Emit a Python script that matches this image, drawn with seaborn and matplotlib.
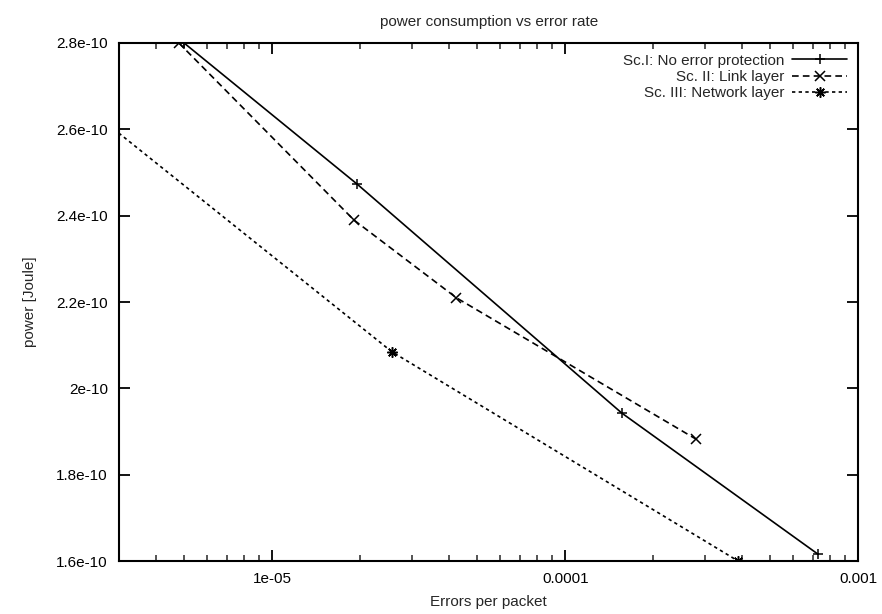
import numpy as np
import pandas as pd
import seaborn as sns
import matplotlib
matplotlib.use("Agg")
import matplotlib.pyplot as plt
from matplotlib.ticker import FixedLocator, LogLocator, NullFormatter

# values
sc1_x = [5.0e-6, 1.95e-5, 1.56e-4, 7.3e-4]
sc1_y = [2.80e-10, 2.473e-10, 1.943e-10, 1.616e-10]

sc2_x = [4.8e-6, 1.9e-5, 4.25e-5, 2.79e-4]
sc2_y = [2.80e-10, 2.39e-10, 2.21e-10, 1.883e-10]

sc3_x = [1.0e-6, 2.56e-5, 3.9e-4]
sc3_y = [2.85e-10, 2.085e-10, 1.60e-10]

labels = ["Sc.I: No error protection", "Sc. II: Link layer", "Sc. III: Network layer"]
x_ticks = [1e-5, 1e-4, 1e-3]
x_tick_labels = ["1e-05", "0.0001", "0.001"]
y_ticks = [1.6e-10, 1.8e-10, 2.0e-10, 2.2e-10, 2.4e-10, 2.6e-10, 2.8e-10]
y_tick_labels = ["1.6e-10", "1.8e-10", "2e-10", "2.2e-10", "2.4e-10", "2.6e-10", "2.8e-10"]

sns.set_style("ticks")
plt.rcParams["font.family"] = ["Liberation Sans", "DejaVu Sans"]

fig = plt.figure(figsize=(8.82, 6.14), dpi=100)
ax = fig.add_axes([0.135, 0.086, 0.838, 0.844])

series = [(sc1_x, sc1_y), (sc2_x, sc2_y), (sc3_x, sc3_y)]
styles = ["-", (0, (4, 2.5)), (0, (2, 2))]
markers = ["+", "x", (8, 2, 0)]

for (xs, ys), lab, ls, mk in zip(series, labels, styles, markers):
    df = pd.DataFrame({"x": xs, "y": ys})
    sns.lineplot(data=df, x="x", y="y", ax=ax, color="black", linestyle=ls,
                 marker=mk, markersize=7.5, markeredgewidth=1.1,
                 markeredgecolor="black", linewidth=1.2, label=lab)

ax.set_xscale("log")
ax.set_xlim(3e-6, 1e-3)
ax.set_ylim(1.6e-10, 2.8e-10)

ax.xaxis.set_major_locator(FixedLocator(x_ticks))
ax.set_xticklabels(x_tick_labels)
ax.xaxis.set_minor_locator(LogLocator(base=10, subs=np.arange(2, 10)))
ax.xaxis.set_minor_formatter(NullFormatter())
ax.set_yticks(y_ticks)
ax.set_yticklabels(y_tick_labels)

ax.tick_params(axis="both", which="major", direction="in", length=8, width=1.3,
               top=True, right=True, labelsize=11, pad=8, colors="black")
ax.tick_params(axis="both", which="minor", direction="in", length=4, width=1.1,
               top=True, right=True)
for s in ax.spines.values():
    s.set_linewidth(1.5)
    s.set_color("black")

ax.set_xlabel("Errors per packet", fontsize=11, labelpad=6)
ax.set_ylabel("power [Joule]", fontsize=11, labelpad=14)
ax.set_title("power consumption vs error rate", fontsize=11, pad=12)

leg = ax.legend(loc="upper right", frameon=False, markerfirst=False, fontsize=11,
                handlelength=3.6, handletextpad=0.5, labelspacing=0.15,
                borderaxespad=0.3, numpoints=1)

fig.savefig("out.png", dpi=100)
